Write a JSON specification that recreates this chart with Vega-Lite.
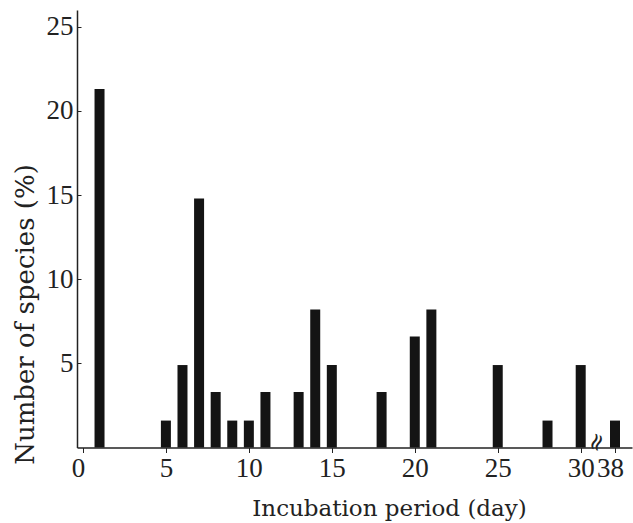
{
  "$schema": "https://vega.github.io/schema/vega-lite/v6.json",
  "autosize": "none",
  "width": 555,
  "height": 437.5,
  "padding": {"left": 77, "top": 10, "right": 1, "bottom": 75.5},
  "background": "white",
  "config": {"view": {"stroke": null}},
  "datasets": {
    "bars": [
      {"day": 1, "percent": 21.3},
      {"day": 5, "percent": 1.6},
      {"day": 6, "percent": 4.9},
      {"day": 7, "percent": 14.8},
      {"day": 8, "percent": 3.3},
      {"day": 9, "percent": 1.6},
      {"day": 10, "percent": 1.6},
      {"day": 11, "percent": 3.3},
      {"day": 13, "percent": 3.3},
      {"day": 14, "percent": 8.2},
      {"day": 15, "percent": 4.9},
      {"day": 18, "percent": 3.3},
      {"day": 20, "percent": 6.6},
      {"day": 21, "percent": 8.2},
      {"day": 25, "percent": 4.9},
      {"day": 28, "percent": 1.6},
      {"day": 30, "percent": 4.9},
      {"day": 38, "percent": 1.6}
    ],
    "brk": [{"day": 33.8, "percent": 0.3, "symbol": "≈"}]
  },
  "layer": [
    {
      "data": {"name": "bars"},
      "mark": {"type": "bar", "width": 10, "color": "#141414"},
      "encoding": {
        "x": {
          "field": "day",
          "type": "quantitative",
          "scale": {"type": "linear", "domain": [0, 30, 38, 39], "range": [0, 503.7, 538, 555], "nice": false, "zero": false},
          "axis": {
            "values": [0, 5, 10, 15, 20, 25, 30, 38],
            "title": "Incubation period (day)",
            "grid": false,
            "domainColor": "#222",
            "domainWidth": 1.5,
            "tickColor": "#222",
            "tickSize": 5,
            "tickWidth": 1,
            "labelFont": "Liberation Serif",
            "labelFontSize": 27,
            "labelColor": "#222",
            "labelPadding": 3,
            "labelFlush": false,
            "labelAlign": "center",
            "labelOffset": {"condition": {"test": "datum.value == 0 || datum.value == 38", "value": -5}, "value": 0},
            "labelOverlap": false,
            "titleFont": "DejaVu Serif",
            "titleFontSize": 23,
            "titleFontWeight": "normal",
            "titleColor": "#222",
            "titleX": 312,
            "titleY": 68,
            "titleAlign": "center",
            "titleBaseline": "alphabetic",
            "titleAnchor": null
          }
        },
        "y": {
          "field": "percent",
          "type": "quantitative",
          "scale": {"domain": [0, 26], "nice": false},
          "axis": {
            "values": [5, 10, 15, 20, 25],
            "title": "Number of species (%)",
            "grid": false,
            "domainColor": "#222",
            "domainWidth": 1.5,
            "tickColor": "#222",
            "tickSize": -4,
            "labelFont": "Liberation Serif",
            "labelFontSize": 27,
            "labelColor": "#222",
            "labelPadding": 8,
            "titleFont": "DejaVu Serif",
            "titleFontSize": 26,
            "titleFontWeight": "normal",
            "titleColor": "#222",
            "titleAngle": -90,
            "titleX": -44,
            "titleY": 304,
            "titleAlign": "center",
            "titleBaseline": "alphabetic",
            "titleAnchor": null
          }
        }
      }
    },
    {
      "data": {"name": "brk"},
      "mark": {"type": "text", "fontSize": 24, "angle": 290, "color": "#222", "font": "DejaVu Serif"},
      "encoding": {
        "x": {"field": "day", "type": "quantitative"},
        "y": {"field": "percent", "type": "quantitative"},
        "text": {"field": "symbol"}
      }
    }
  ]
}
